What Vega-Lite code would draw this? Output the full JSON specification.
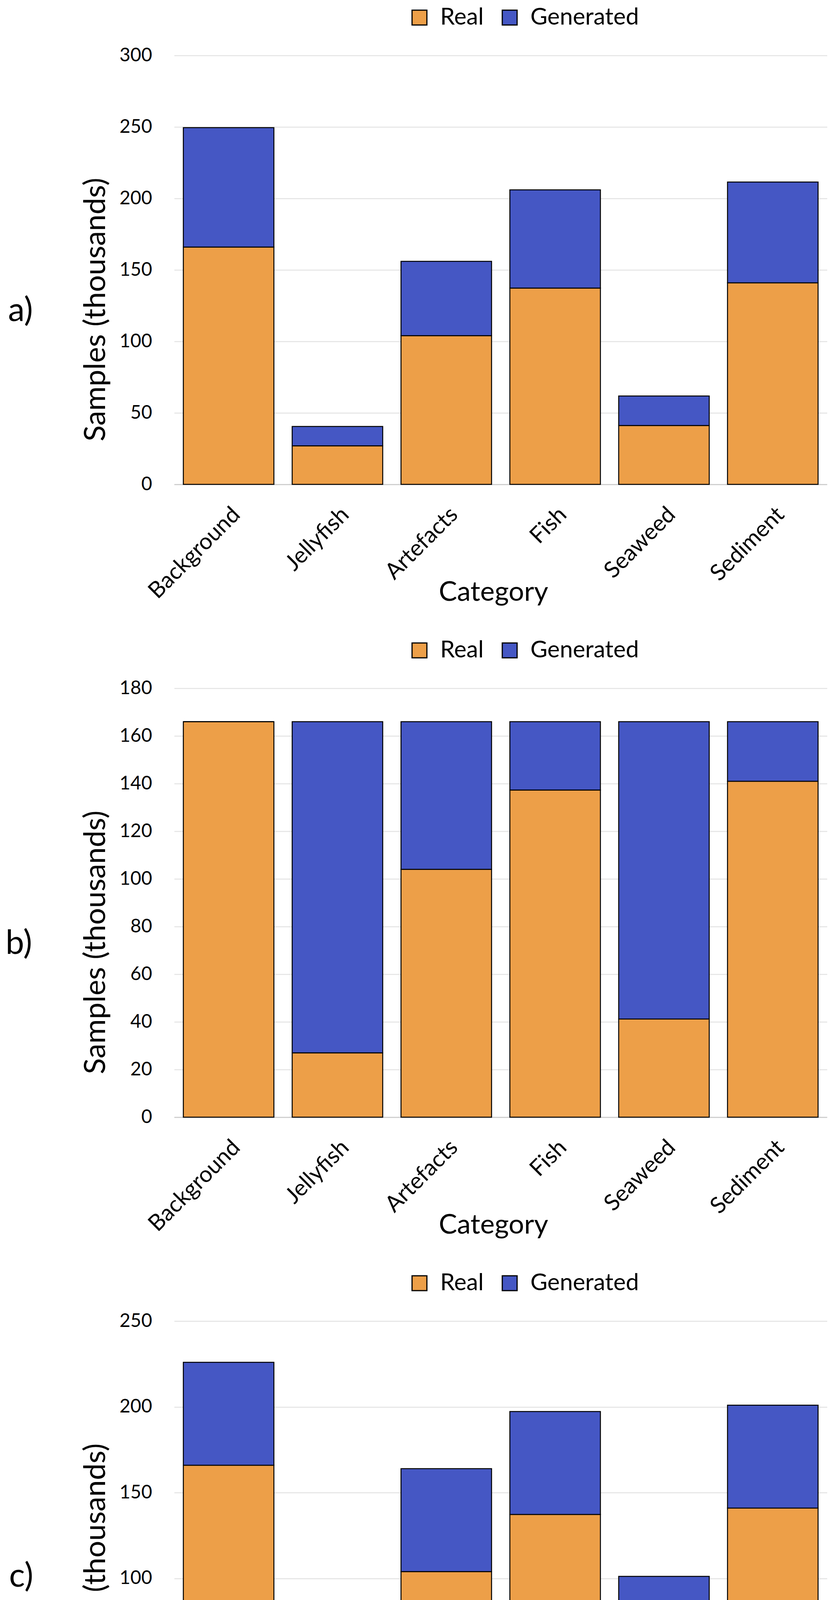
{
  "$schema": "https://vega.github.io/schema/vega-lite/v6.json",
  "padding": {"left": 14, "top": 15, "right": 0, "bottom": 0},
  "spacing": 84,
  "background": "white",
  "data": {
    "values": [
      {"panel": "a", "category": "Background", "type": "Real", "value": 166},
      {"panel": "a", "category": "Background", "type": "Generated", "value": 83.5},
      {"panel": "a", "category": "Jellyfish", "type": "Real", "value": 27},
      {"panel": "a", "category": "Jellyfish", "type": "Generated", "value": 13.5},
      {"panel": "a", "category": "Artefacts", "type": "Real", "value": 104},
      {"panel": "a", "category": "Artefacts", "type": "Generated", "value": 52},
      {"panel": "a", "category": "Fish", "type": "Real", "value": 137.3},
      {"panel": "a", "category": "Fish", "type": "Generated", "value": 68.7},
      {"panel": "a", "category": "Seaweed", "type": "Real", "value": 41.2},
      {"panel": "a", "category": "Seaweed", "type": "Generated", "value": 20.6},
      {"panel": "a", "category": "Sediment", "type": "Real", "value": 141},
      {"panel": "a", "category": "Sediment", "type": "Generated", "value": 70.5},
      {"panel": "b", "category": "Background", "type": "Real", "value": 166},
      {"panel": "b", "category": "Background", "type": "Generated", "value": 0},
      {"panel": "b", "category": "Jellyfish", "type": "Real", "value": 27},
      {"panel": "b", "category": "Jellyfish", "type": "Generated", "value": 139},
      {"panel": "b", "category": "Artefacts", "type": "Real", "value": 104},
      {"panel": "b", "category": "Artefacts", "type": "Generated", "value": 62},
      {"panel": "b", "category": "Fish", "type": "Real", "value": 137.3},
      {"panel": "b", "category": "Fish", "type": "Generated", "value": 28.7},
      {"panel": "b", "category": "Seaweed", "type": "Real", "value": 41.2},
      {"panel": "b", "category": "Seaweed", "type": "Generated", "value": 124.8},
      {"panel": "b", "category": "Sediment", "type": "Real", "value": 141},
      {"panel": "b", "category": "Sediment", "type": "Generated", "value": 25},
      {"panel": "c", "category": "Background", "type": "Real", "value": 166},
      {"panel": "c", "category": "Background", "type": "Generated", "value": 60},
      {"panel": "c", "category": "Jellyfish", "type": "Real", "value": 27},
      {"panel": "c", "category": "Jellyfish", "type": "Generated", "value": 60},
      {"panel": "c", "category": "Artefacts", "type": "Real", "value": 104},
      {"panel": "c", "category": "Artefacts", "type": "Generated", "value": 60},
      {"panel": "c", "category": "Fish", "type": "Real", "value": 137.3},
      {"panel": "c", "category": "Fish", "type": "Generated", "value": 60},
      {"panel": "c", "category": "Seaweed", "type": "Real", "value": 41.2},
      {"panel": "c", "category": "Seaweed", "type": "Generated", "value": 60},
      {"panel": "c", "category": "Sediment", "type": "Real", "value": 141},
      {"panel": "c", "category": "Sediment", "type": "Generated", "value": 60}
    ]
  },
  "resolve": {"scale": {"y": "independent"}, "legend": {"color": "independent"}},
  "vconcat": [
    {
      "title": {"text": "a)"},
      "width": 1672,
      "height": 1098,
      "transform": [{"filter": "datum.panel === 'a'"}],
      "mark": {"type": "bar", "stroke": "black", "strokeWidth": 2.5},
      "encoding": {
        "x": {"field": "category", "type": "nominal", "sort": null, "title": "Category"},
        "y": {"field": "value", "type": "quantitative", "stack": "zero", "title": "Samples (thousands)",
          "scale": {"domain": [0, 300], "nice": false},
          "axis": {"values": [0, 50, 100, 150, 200, 250, 300]}},
        "color": {"field": "type", "type": "nominal", "title": null,
          "scale": {"domain": ["Real", "Generated"], "range": ["#ED9F48", "#4557C4"]}},
        "order": {"field": "type", "sort": "descending"}
      }
    },
    {
      "title": {"text": "b)"},
      "width": 1672,
      "height": 1098,
      "transform": [{"filter": "datum.panel === 'b'"}],
      "mark": {"type": "bar", "stroke": "black", "strokeWidth": 2.5},
      "encoding": {
        "x": {"field": "category", "type": "nominal", "sort": null, "title": "Category"},
        "y": {"field": "value", "type": "quantitative", "stack": "zero", "title": "Samples (thousands)",
          "scale": {"domain": [0, 180], "nice": false},
          "axis": {"values": [0, 20, 40, 60, 80, 100, 120, 140, 160, 180]}},
        "color": {"field": "type", "type": "nominal", "title": null,
          "scale": {"domain": ["Real", "Generated"], "range": ["#ED9F48", "#4557C4"]}},
        "order": {"field": "type", "sort": "descending"}
      }
    },
    {
      "title": {"text": "c)"},
      "width": 1672,
      "height": 1098,
      "transform": [{"filter": "datum.panel === 'c'"}],
      "mark": {"type": "bar", "stroke": "black", "strokeWidth": 2.5},
      "encoding": {
        "x": {"field": "category", "type": "nominal", "sort": null, "title": "Category"},
        "y": {"field": "value", "type": "quantitative", "stack": "zero", "title": "Samples (thousands)",
          "scale": {"domain": [0, 250], "nice": false},
          "axis": {"values": [0, 50, 100, 150, 200, 250]}},
        "color": {"field": "type", "type": "nominal", "title": null,
          "scale": {"domain": ["Real", "Generated"], "range": ["#ED9F48", "#4557C4"]}},
        "order": {"field": "type", "sort": "descending"}
      }
    }
  ],
  "config": {
    "font": "Lato",
    "view": {"stroke": null},
    "scale": {"bandPaddingInner": 0.168, "bandPaddingOuter": 0.084},
    "title": {
      "orient": "left", "angle": 0, "fontSize": 85, "fontWeight": "normal", "color": "black",
      "align": "right", "baseline": "alphabetic", "anchor": "middle", "offset": 91, "dy": 64
    },
    "axisY": {
      "ticks": false, "domain": false, "labelPadding": 57, "labelFontSize": 48, "labelColor": "black",
      "gridColor": "#e3e3e3", "gridWidth": 2.5,
      "titleFontSize": 76, "titleFontWeight": "normal", "titleColor": "black",
      "titleAngle": -90, "titleAlign": "center", "titleBaseline": "alphabetic",
      "titleX": -178, "titleY": 650
    },
    "axisX": {
      "ticks": false, "domainColor": "#d0d0d0", "domainWidth": 3, "grid": false,
      "labelAngle": -45, "labelAlign": "right", "labelBaseline": "top", "labelPadding": 48,
      "labelDx": 8, "labelDy": 8,
      "labelFontSize": 58, "labelColor": "black", "labelLimit": 0,
      "titleFontSize": 70, "titleFontWeight": "normal", "titleColor": "black",
      "titleBaseline": "alphabetic", "titleX": 817, "titleY": 297
    },
    "legend": {
      "orient": "none", "direction": "horizontal", "legendX": 598, "legendY": -127,
      "symbolType": "square", "symbolSize": 1444, "symbolStrokeColor": "black", "symbolStrokeWidth": 3,
      "symbolOpacity": 1, "labelLimit": 0,
      "labelFontSize": 60, "labelColor": "black", "labelOffset": 23, "columnPadding": 36
    }
  }
}
